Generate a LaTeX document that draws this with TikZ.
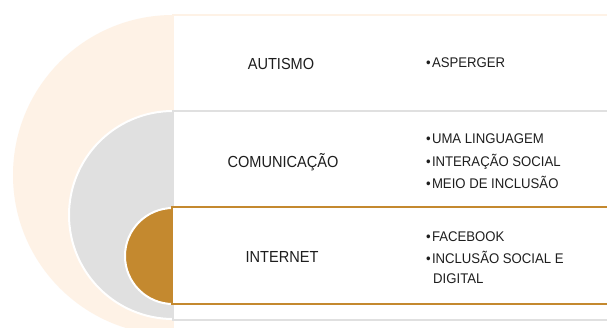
\documentclass[tikz,border=0pt]{standalone}
\usepackage{fontspec}
\setmainfont{Liberation Sans}
\newfontfamily\labfont[FakeStretch=0.91]{Liberation Sans}
\newfontfamily\bulfont[FakeStretch=0.94]{Liberation Sans}
\definecolor{peach}{RGB}{254,242,230}
\definecolor{lgray}{RGB}{224,224,224}
\definecolor{gold}{RGB}{196,137,47}
\definecolor{txt}{RGB}{30,30,30}
\begin{document}
\begin{tikzpicture}[x=1pt,y=-1pt,
  lab/.style={font=\labfont\fontsize{16}{16}\selectfont, text=txt, anchor=base, inner sep=0pt},
  bul/.style={font=\bulfont\fontsize{14}{14}\selectfont, text=txt, anchor=base west, inner sep=0pt}]
\useasboundingbox (0,0) rectangle (607,327);
\clip (0,0) rectangle (607,327);
\fill[white] (0,0) rectangle (607,327);
% outer ring
\fill[peach] (173,175) circle (160);
\draw[peach, line width=2, fill=white] (173,15) rectangle (640,360);
% middle ring
\filldraw[fill=lgray, draw=white, line width=2] (173,215) circle (104);
\draw[lgray, line width=2, fill=white] (173,111) rectangle (640,320);
% inner ring
\filldraw[fill=gold, draw=white, line width=2] (173,256) circle (48);
\draw[gold, line width=2.5, fill=white] (172,207) rectangle (640,304);
% labels
\node[lab] (l1) at (281,69) {AUTISMO};
\node[lab] (l2) at (283,167) {COMUNICAÇÃO};
\node[lab] (l3) at (282,262) {INTERNET};
% bullets
\node[bul] (b1) at (426,67) {•\hspace{1.2pt}ASPERGER};
\node[bul] (b2) at (426,143) {•\hspace{1.2pt}UMA LINGUAGEM};
\node[bul] (b3) at (426,166) {•\hspace{1.2pt}INTERAÇÃO SOCIAL};
\node[bul] (b4) at (426,188) {•\hspace{1.2pt}MEIO DE INCLUSÃO};
\node[bul] (b5) at (426,241) {•\hspace{1.2pt}FACEBOOK};
\node[bul] (b6) at (426,263) {•\hspace{1.2pt}INCLUSÃO SOCIAL E};
\node[bul] (b7) at (433,283) {DIGITAL};
\end{tikzpicture}
\end{document}
